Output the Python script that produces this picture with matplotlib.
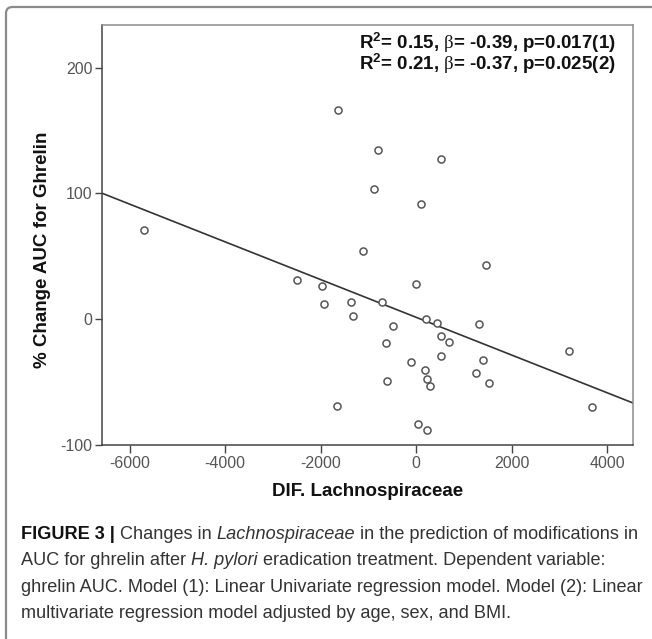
import matplotlib
matplotlib.use("Agg")
import matplotlib.pyplot as plt
import numpy as np
from matplotlib.patches import FancyBboxPatch

# data
dif_lachno = [-5693, -1642, -805, 527, -889, 94, -1105, -2500, -1962, -1927,
              -1356, -1320, -722, -2, -477, -623, -609, -1663, 199, 437,
              521, 688, 513, -115, 178, 234, 291, 40, 234, 1462,
              1322, 1399, 1259, 1538, 3205, 3692]
chg_ghrelin = [71.0, 166.0, 134.4, 127.0, 103.7, 91.2, 54.3, 31.3, 26.0, 11.7,
               13.3, 2.1, 13.8, 27.8, -5.6, -19.1, -49.6, -69.5, 0.0, -2.9,
               -13.8, -18.0, -29.4, -34.5, -40.6, -47.5, -53.6, -83.8, -88.6, 43.2,
               -4.2, -32.6, -43.2, -51.2, -25.2, -70.2]
fit_intercept = 1.3
fit_slope = -0.01502

x_ticks = [-6000, -4000, -2000, 0, 2000, 4000]
y_ticks = [-100, 0, 100, 200]
x_lim = (-6570, 4550)
y_lim = (-100, 234)

stats_lines = [r"$\mathbf{R^{2}}$= 0.15, $\mathrm{\beta}$= -0.39, p=0.017(1)",
               r"$\mathbf{R^{2}}$= 0.21, $\mathrm{\beta}$= -0.37, p=0.025(2)"]

caption = [
    [("FIGURE 3 |", "bold"), ("Changes in", "normal"), ("Lachnospiraceae", "italic"),
     ("in the prediction of modifications in", "normal")],
    [("AUC for ghrelin after", "normal"), ("H. pylori", "italic"),
     ("eradication treatment. Dependent variable:", "normal")],
    [("ghrelin AUC. Model (1): Linear Univariate regression model. Model (2): Linear", "normal")],
    [("multivariate regression model adjusted by age, sex, and BMI.", "normal")],
]

plt.rcParams['font.family'] = ['Liberation Sans', 'DejaVu Sans']
plt.rcParams['axes.unicode_minus'] = False
plt.rcParams['mathtext.fontset'] = 'custom'
plt.rcParams['mathtext.bf'] = 'Liberation Sans:bold'
plt.rcParams['mathtext.rm'] = 'Liberation Serif'

W, H = 652, 639
fig = plt.figure(figsize=(W / 100, H / 100), dpi=100)

# outer grey frame of the figure panel
frame = FancyBboxPatch((6 / W, 1 - 700 / H), 700 / W, 693 / H,
                       boxstyle="round,pad=0,rounding_size=0.01",
                       transform=fig.transFigure, fill=False,
                       edgecolor='#8a8a8a', linewidth=1.6)
fig.patches.append(frame)

ax = fig.add_axes([102.3 / W, 1 - 444.5 / H, 531 / W, 419.5 / H])

ax.scatter(dif_lachno, chg_ghrelin, s=26, facecolors='white', edgecolors='#555555',
           linewidths=1.1, zorder=3)
xs = np.array(x_lim)
ax.plot(xs, fit_intercept + fit_slope * xs, color='#333333', linewidth=1.2, zorder=2)

ax.set_xlim(*x_lim)
ax.set_ylim(*y_lim)
ax.set_xticks(x_ticks)
ax.set_yticks(y_ticks)
ax.tick_params(direction='out', length=5.4, width=1.0, color='#444444',
               labelsize=11.5, labelcolor='#555555')
ax.tick_params(axis='x', pad=3.2)
ax.tick_params(axis='y', pad=1.5)
for side in ['left', 'bottom']:
    ax.spines[side].set_color('#444444')
    ax.spines[side].set_linewidth(1.1)
for side in ['top', 'right']:
    ax.spines[side].set_color('#8c8c8c')
    ax.spines[side].set_linewidth(1.1)

fig.text(368 / W, 1 - 496.5 / H, "DIF. Lachnospiraceae", ha='center', va='baseline',
         fontsize=13.5, fontweight='bold', color='#111111')
fig.text(43 / W, 1 - 250 / H, "% Change AUC for Ghrelin", ha='center', va='center',
         rotation=90, fontsize=13.5, fontweight='bold', color='#111111')

# both stats lines in one text block
fig.text(359 / W, 1 - 31 / H, "\n".join(stats_lines), ha='left', va='top',
         linespacing=0.8, fontsize=13.5, fontweight='bold', color='#111111')

# caption, built from styled pieces
cap_fs = 13.1
space_pt = 0.278 * cap_fs
for i, line in enumerate(caption):
    prev = None
    for txt, style in line:
        kw = dict(fontsize=cap_fs, color='#333333')
        if style == 'bold':
            kw['fontweight'] = 'bold'
            kw['color'] = '#111111'
        elif style == 'italic':
            kw['fontstyle'] = 'italic'
        if prev is None:
            prev = fig.text(21 / W, 1 - (543 + 26.3 * i) / H, txt, ha='left',
                            va='bottom', **kw)
        else:
            prev = ax.annotate(txt, xy=(1, 0), xycoords=prev, xytext=(space_pt, 0),
                               textcoords='offset points', ha='left', va='bottom',
                               annotation_clip=False, **kw)

fig.savefig('out.png', dpi=100)
